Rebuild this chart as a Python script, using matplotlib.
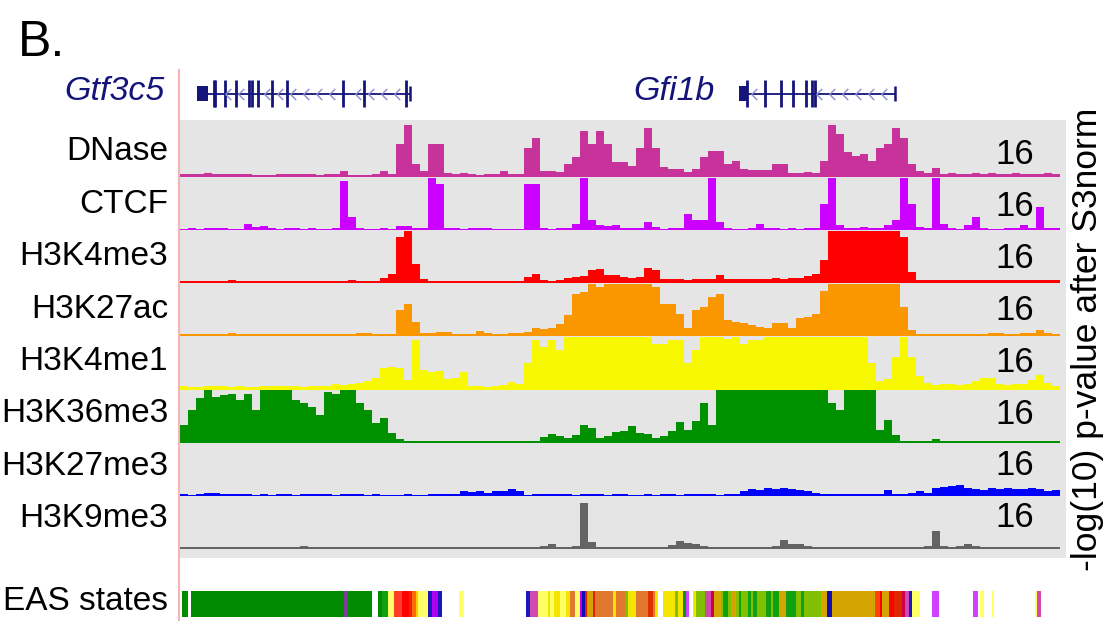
import numpy as np
import matplotlib.pyplot as plt
from matplotlib.lines import Line2D
from matplotlib.path import Path

plt.rcParams['font.family'] = ['Liberation Sans', 'DejaVu Sans']

# signal tracks, -log10 p-value per bin (110 bins across the locus), capped at 16
track_names = ['DNase', 'CTCF', 'H3K4me3', 'H3K27ac', 'H3K4me1', 'H3K36me3', 'H3K27me3', 'H3K9me3']
track_colors = ['#c8329b', '#cc00ff', '#ff0000', '#fa9600', '#f8f800', '#009100', '#0000ff', '#646464']

dnase = [0.9, 0.8, 1.0, 1.2, 1.0, 0.9, 0.8, 0.9, 0.8, 0.5, 0.6, 0.7, 0.9, 1.0, 0.9, 0.8, 0.9, 0.7, 0.9, 0.9,
         2.0, 0.7, 0.6, 0.7, 0.9, 1.8, 1.0, 10, 16, 4, 1.8, 10, 10, 1.2, 1.0, 1.2, 0.8, 0.7, 0.8, 0.8,
         2.0, 0.9, 0.9, 9, 12, 1.7, 1.7, 1.5, 4, 6, 14, 10, 14, 10, 4.5, 4.5, 3.5, 9, 15, 9,
         3, 2.5, 2.5, 1.5, 2.5, 6, 8, 8, 4, 5, 2.5, 2.3, 2.3, 2.3, 4, 4, 1.3, 1.3, 1.5, 1.3,
         5, 16, 13, 7.5, 6.3, 7, 5, 9, 10, 15, 12, 4, 2, 1.1, 2.8, 1.0, 1.2, 1.0, 0.9, 1.1,
         1.0, 1.2, 1.0, 0.9, 1.1, 1.0, 0.8, 1.0, 1.1, 0.9]
ctcf = [0.5, 0.6, 0.5, 0.7, 0.6, 0.6, 0.5, 0.5, 2.0, 1.0, 1.3, 0.6, 0.5, 0.6, 0.6, 0.5, 0.6, 0.5, 0.5, 0.8,
        15, 4, 0.6, 0.5, 0.5, 0.6, 0.5, 1.2, 1.2, 0.7, 0.6, 16, 14, 0.6, 0.7, 0.5, 0.6, 0.7, 0.6, 0.5,
        0.5, 0.5, 0.5, 14, 14, 0.6, 0.5, 0.6, 0.8, 2.0, 16, 3, 1.5, 1.2, 1.6, 0.6, 0.7, 0.6, 2.5, 1.0,
        0.5, 0.6, 0.6, 5, 3, 3, 16, 2.5, 0.6, 0.5, 0.5, 0.6, 1.8, 0.6, 0.6, 0.5, 0.6, 0.5, 0.6, 0.8,
        8, 16, 1.6, 0.6, 0.6, 1.0, 0.6, 0.8, 1.7, 3, 16, 8, 1.0, 0.6, 16, 2, 0.6, 0.5, 1.5, 4,
        0.6, 0.5, 0.5, 0.6, 0.6, 1.5, 0.6, 7, 0.7, 0.6]
h3k4me3 = [0.6, 0.6, 0.7, 0.8, 0.7, 0.6, 0.9, 0.7, 0.8, 0.6, 0.6, 0.7, 0.6, 0.6, 0.7, 0.6, 0.6, 0.7, 0.8, 0.6,
           0.7, 0.9, 0.6, 0.6, 0.8, 1.7, 3, 14, 16, 6, 1.2, 0.7, 0.6, 0.6, 0.7, 0.6, 0.6, 0.7, 0.6, 0.6,
           0.7, 0.6, 0.6, 2.0, 3.0, 1.0, 0.8, 0.9, 1.5, 2.0, 2.2, 4.0, 4.5, 2.5, 2.5, 1.8, 1.6, 2.0, 4.8, 4.0,
           1.2, 1.3, 1.2, 1.1, 1.2, 1.3, 1.2, 2.5, 1.3, 1.2, 1.3, 1.4, 1.3, 1.4, 1.5, 1.4, 1.5, 1.6, 2.2, 3,
           7, 16, 16, 16, 16, 16, 16, 16, 16, 16, 14, 3.5, 1.0, 1.0, 0.9, 1.0, 1.1, 0.9, 1.0, 1.0,
           0.9, 1.0, 1.0, 0.9, 1.0, 1.1, 1.0, 0.9, 1.0, 0.9]
h3k27ac = [0.7, 0.8, 0.8, 0.8, 0.9, 0.9, 1.2, 0.8, 0.7, 0.8, 0.8, 0.8, 0.8, 0.9, 0.8, 0.8, 0.8, 0.9, 0.8, 0.8,
           0.9, 0.8, 1.2, 1.0, 0.8, 0.8, 0.9, 8, 10, 4.5, 1.2, 1.0, 1.4, 1.3, 0.9, 0.9, 0.9, 1.8, 1.2, 0.9,
           0.9, 1.0, 1.0, 1.5, 2.5, 2.2, 2.5, 3.8, 6.5, 13, 13.5, 16, 15, 16, 16, 16, 16, 16, 16, 15,
           10, 10, 7, 2.5, 8, 9, 12, 13, 5, 4.5, 4.0, 3.5, 3.0, 2.5, 4, 4, 2.5, 5.5, 6, 7,
           14, 16, 16, 16, 16, 16, 16, 16, 16, 16, 9, 2, 0.9, 0.8, 0.9, 0.9, 0.8, 0.9, 0.9, 0.9,
           0.8, 1.0, 1.2, 0.9, 0.9, 1.0, 1.0, 2.0, 1.0, 0.9]
h3k4me1 = [1.0, 0.8, 0.9, 1.1, 1.0, 1.0, 0.9, 1.0, 0.8, 0.9, 1.0, 1.0, 1.2, 1.0, 1.0, 0.9, 1.0, 1.1, 1.0, 1.6,
           1.4, 1.8, 2.0, 2.5, 3.5, 6.5, 7, 6.5, 3, 15, 6, 5.5, 5.8, 3.3, 3.5, 5.5, 1.2, 1.0, 0.9, 1.1,
           1.5, 2.2, 1.8, 8, 15, 13, 15, 12, 16, 16, 16, 16, 16, 16, 16, 16, 16, 16, 16, 14,
           14, 15, 15, 8, 12, 16, 16, 16, 15.5, 16, 14, 15, 15, 16, 16, 16, 16, 16, 16, 16,
           16, 16, 16, 16, 16, 16, 8, 2.5, 3.3, 10, 16, 10, 4, 2, 1.5, 1.8, 1.6, 1.5, 1.7, 2.5,
           3.5, 3.5, 1.6, 1.5, 1.7, 1.6, 3, 4.5, 2, 1.2]
h3k36me3 = [5.5, 10, 13.5, 16, 14, 14.5, 15, 13, 15, 10, 16, 16, 16, 16, 13, 12, 11, 8.5, 15.5, 15,
            16, 16, 12, 10, 6, 7.5, 3, 1.2, 0.5, 0.5, 0.5, 0.6, 0.5, 0.5, 0.5, 0.6, 0.5, 0.5, 0.6, 0.5,
            0.5, 0.5, 0.6, 0.5, 0.5, 1.7, 2.6, 2.0, 1.5, 2.5, 5.5, 4.5, 1.5, 2.0, 3.2, 3.5, 5, 3.0, 2.8, 1.3,
            2.2, 3.5, 6.2, 4.0, 6.5, 12, 5.5, 16, 16, 16, 16, 16, 16, 16, 16, 16, 16, 16, 16, 16,
            16, 12, 10, 16, 16, 16, 16, 4, 7, 2.5, 0.5, 0.5, 0.5, 0.5, 1.2, 0.5, 0.5, 0.5, 0.5, 0.5,
            0.5, 0.5, 0.5, 0.5, 0.5, 0.5, 0.5, 0.5, 0.5, 0.5]
h3k27me3 = [0.5, 0.4, 0.5, 0.8, 0.8, 0.5, 0.6, 0.7, 0.5, 0.4, 0.7, 0.4, 0.7, 0.5, 0.4, 0.7, 0.5, 0.6, 0.6, 0.4,
            0.6, 0.5, 0.6, 0.4, 0.5, 0.4, 0.4, 0.4, 0.6, 0.4, 0.4, 0.5, 0.7, 0.6, 0.7, 1.5, 1.2, 1.6, 1.0, 1.4,
            1.6, 2.0, 1.5, 0.4, 0.5, 0.6, 0.7, 0.6, 0.7, 0.4, 0.7, 0.5, 0.6, 0.4, 0.5, 0.6, 0.4, 0.4, 0.5, 0.4,
            0.5, 0.6, 0.4, 0.5, 0.6, 0.5, 0.6, 0.4, 0.7, 0.6, 1.5, 2.0, 1.8, 2.3, 2.2, 2.5, 2.0, 1.8, 1.5, 1.0,
            0.6, 0.5, 0.7, 0.6, 0.5, 0.6, 0.7, 0.6, 1.8, 0.7, 0.7, 0.8, 1.5, 1.0, 2.5, 2.8, 3.0, 3.2, 2.5, 2.0,
            1.8, 2.3, 2.0, 2.5, 2.0, 2.2, 2.5, 2.0, 1.6, 1.8]
h3k9me3 = [0.5, 0.5, 0.5, 0.5, 0.5, 0.5, 0.5, 0.5, 0.5, 0.5, 0.5, 0.5, 0.5, 0.5, 0.5, 0.9, 0.5, 0.5, 0.5, 0.5,
           0.5, 0.5, 0.5, 0.5, 0.5, 0.5, 0.5, 0.5, 0.5, 0.5, 0.5, 0.5, 0.5, 0.5, 0.5, 0.5, 0.5, 0.5, 0.6, 0.6,
           0.5, 0.5, 0.5, 0.5, 0.5, 0.8, 1.6, 0.5, 0.6, 1.0, 14, 2.0, 0.5, 0.5, 0.5, 0.5, 0.5, 0.5, 0.5, 0.5,
           0.5, 1.2, 2.4, 1.8, 1.4, 1.0, 0.5, 0.5, 0.5, 0.5, 0.5, 0.5, 0.6, 0.5, 1.0, 2.6, 1.6, 1.5, 0.8, 0.5,
           0.5, 0.5, 0.5, 0.5, 0.6, 0.5, 0.5, 0.6, 0.5, 0.5, 0.5, 0.5, 0.5, 1.0, 5.5, 1.0, 0.5, 1.0, 1.5, 0.8,
           0.5, 0.5, 0.5, 0.5, 0.5, 0.6, 0.5, 0.5, 0.5, 0.5]
tracks = [dnase, ctcf, h3k4me3, h3k27ac, h3k4me1, h3k36me3, h3k27me3, h3k9me3]
ymax = 16

# gene models (same bin coordinates)
gtf3c5_utr = (2.1, 3.5)
gtf3c5_span = (3.5, 28.8)
gtf3c5_exons = [4.2, 4.4, 5.6, 7.0, 8.6, 9.0, 9.75, 11.5, 13.4, 20.4, 23.0, 28.25]
gfi1b_utr = (69.9, 70.9)
gfi1b_span = (70.9, 89.4)
gfi1b_exons = [70.9, 73.1, 75.1, 76.6, 78.3, 79.0, 79.4]

# EAS chromatin state segments
eas_start = [0.25, 1.375, 20.5, 20.94, 24.69, 25.25, 25.94, 26.75, 27.81, 28.63, 29.06, 29.5, 29.81, 31.06,
             31.5, 32.31, 34.88, 43.2, 43.7, 44.7, 46.0, 46.25, 46.8, 47.5, 48.25, 48.75, 49.4, 50.0, 50.25,
             50.6, 50.9, 51.6, 51.9, 54.1, 54.5, 55.6, 56.0, 57.0, 58.5, 59.1, 59.4, 60.4, 61.9, 62.25, 62.9,
             63.25, 64.1, 64.5, 65.6, 66.4, 66.75, 67.6, 67.9, 68.5, 68.9, 69.5, 69.9, 70.1, 71.0, 71.4, 71.6,
             72.1, 73.25, 73.9, 74.1, 74.9, 75.75, 77.0, 77.6, 78.0, 80.1, 80.9, 81.5, 86.9, 87.5, 87.75,
             88.6, 89.25, 90.25, 90.6, 91.1, 91.5, 94.0, 99.1, 100.0, 101.5, 106.9, 107.1]
eas_end = [0.94, 20.5, 20.94, 24.06, 25.25, 25.94, 26.75, 27.81, 28.63, 29.06, 29.5, 29.81, 31.06, 31.5,
           32.31, 32.75, 35.44, 43.7, 44.7, 46.0, 46.25, 46.8, 47.5, 48.25, 48.75, 49.4, 50.0, 50.25, 50.6,
           50.9, 51.6, 51.9, 54.1, 54.5, 55.6, 56.0, 57.0, 58.5, 59.1, 59.4, 59.75, 61.9, 62.25, 62.9, 63.25,
           63.6, 64.5, 65.6, 66.4, 66.75, 67.6, 67.9, 68.5, 68.9, 69.5, 69.9, 70.1, 71.0, 71.4, 71.6, 72.1,
           73.25, 73.9, 74.1, 74.9, 75.75, 77.0, 77.6, 78.0, 80.1, 80.9, 81.5, 86.9, 87.5, 87.75, 88.6,
           89.25, 90.25, 90.6, 91.1, 91.5, 92.5, 94.9, 99.75, 100.5, 101.8, 107.1, 107.6]
eas_color = ['#008c00', '#008c00', '#7d3c98', '#008c00', '#008c00', '#10a010', '#ffff66', '#ff3c28',
             '#ff0000', '#e02800', '#ff6a00', '#ffcc00', '#ffff66', '#1a1ab4', '#b000f0', '#1a1ab4',
             '#ffff66', '#1a1ab4', '#d048b0', '#ffff66', '#f5e400', '#ffff66', '#f5e400', '#ffff66',
             '#f5e400', '#e07830', '#ffff66', '#c000e0', '#1010b0', '#e02000', '#d4a400', '#e02000',
             '#e07830', '#f5e400', '#e07830', '#80c000', '#f5e400', '#e07830', '#e03000', '#e07830',
             '#f5e400', '#f5e400', '#80c000', '#f5e400', '#109010', '#d040ff', '#f5e400', '#80c000',
             '#d048a8', '#c80046', '#d4a400', '#80c000', '#10a010', '#80c000', '#d4a400', '#80c000',
             '#10a010', '#80c000', '#10a010', '#80c000', '#10a010', '#80c000', '#10a010', '#80c000',
             '#10a010', '#d4a400', '#10a010', '#80c000', '#10a010', '#80c000', '#d4a400', '#1010b0',
             '#d4a400', '#ff4010', '#ff0000', '#d4a400', '#ff0000', '#e02800', '#c80046', '#d048c0',
             '#1a1ab4', '#ffff66', '#d040ff', '#d040ff', '#ffff66', '#ffff66', '#ffff66', '#d048b0']

W, H = 1109, 621
nbins = len(dnase)
xmax = 110.75
gap = 16.2      # vertical spacing between track baselines
bottom_pad = 2.74
navy = '#14147a'

fig = plt.figure(figsize=(W / 100, H / 100), dpi=100)

# signal tracks
ax = fig.add_axes([180 / W, (H - 558) / H, 886 / W, 438 / H])
ax.set_facecolor('#e5e5e5')
ax.set_xlim(0, xmax)
ax.set_ylim(0, bottom_pad + 7 * gap + 17.4)
edges = np.arange(nbins + 1)
for k, (name, vals, col) in enumerate(zip(track_names, tracks, track_colors)):
    base = bottom_pad + (7 - k) * gap
    v = np.minimum(np.array(vals, dtype=float), ymax)
    ax.fill_between(edges, base, base + np.append(v, v[-1]), step='post', color=col, lw=0)
    fig.text(168 / W, 1 - (152 + 52.4 * k) / H, name, ha='right', va='center', fontsize=24)
    fig.text(1015 / W, 1 - (155 + 51.8 * k) / H, str(ymax), ha='center', va='center', fontsize=25)
for s in ax.spines.values():
    s.set_visible(False)
ax.set_xticks([])
ax.set_yticks([])

# gene track
gax = fig.add_axes([180 / W, (H - 119) / H, 886 / W, 51 / H])
gax.set_xlim(0, xmax)
gax.set_ylim(0, 1)
gax.axis('off')
chev = Path([(0.5, 1), (-0.5, 0), (0.5, -1)], [Path.MOVETO, Path.LINETO, Path.LINETO])
for utr, span, exons in [(gtf3c5_utr, gtf3c5_span, gtf3c5_exons), (gfi1b_utr, gfi1b_span, gfi1b_exons)]:
    gax.fill_between([utr[0], utr[1]], 0.36, 0.64, color=navy, lw=0)
    gax.plot([span[0], span[1]], [0.5, 0.5], color=navy, lw=1.3)
    gax.vlines(exons, 0.24, 0.76, color=navy, lw=2.0)
    gax.vlines([span[1]], 0.36, 0.64, color=navy, lw=1.8)
    pos = np.arange(span[0] + 0.9, span[1] - 0.4, 1.62)
    pos = [p for p in pos if min(abs(p - e) for e in exons) > 0.4]
    gax.plot(pos, [0.5] * len(pos), ls='none', marker=chev, markersize=8,
             markerfacecolor='none', markeredgecolor='#8c8cd0', markeredgewidth=1.0)

fig.text(165 / W, 1 - 92 / H, 'Gtf3c5', ha='right', va='center', fontsize=24.5, style='italic', color=navy)
fig.text(715 / W, 1 - 92 / H, 'Gfi1b', ha='right', va='center', fontsize=24.5, style='italic', color=navy)

# EAS states
eax = fig.add_axes([180 / W, (H - 617) / H, 886 / W, 26 / H])
eax.set_xlim(0, xmax)
eax.set_ylim(0, 1)
eax.axis('off')
eax.broken_barh([(s, e - s) for s, e in zip(eas_start, eas_end)], (0, 1), facecolors=eas_color, lw=0)
fig.text(168 / W, 1 - 602 / H, 'EAS states', ha='right', va='center', fontsize=24)

# decorations
fig.add_artist(Line2D([178.5 / W, 178.5 / W], [0, 1 - 70 / H], color='#f5b5b5', lw=1.5))
fig.text(18 / W, 1 - 43 / H, 'B.', ha='left', va='center', fontsize=36)
fig.text(1087 / W, 1 - 339 / H, '-log(10) p-value after S3norm', rotation=90,
         ha='center', va='center', fontsize=25.5)

fig.savefig('out.png', dpi=100)
